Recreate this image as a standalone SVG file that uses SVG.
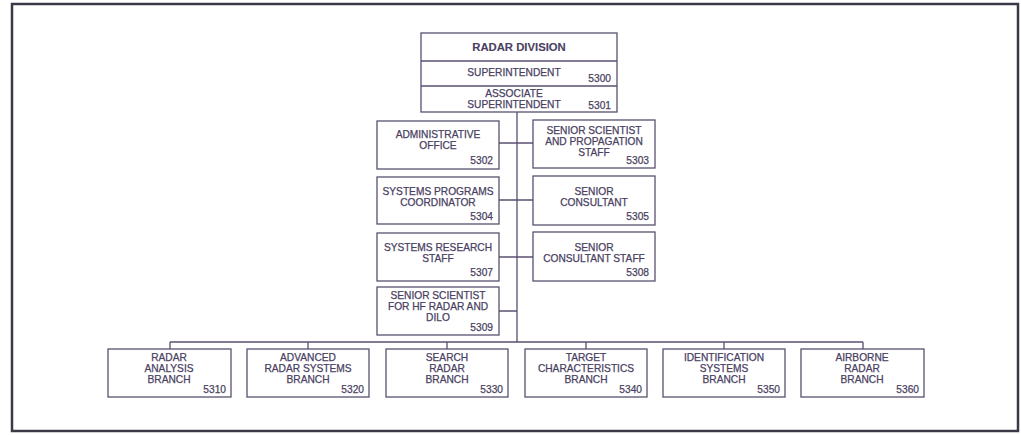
<svg xmlns="http://www.w3.org/2000/svg" width="1021" height="435" viewBox="0 0 1021 435">
<style>
.bx{fill:#fff;stroke:#5a5070;stroke-width:1.3}
.ln{fill:none;stroke:#5a5070;stroke-width:1.3}
text{font-family:"Liberation Sans",Arial,sans-serif;font-size:10.2px;fill:#4a3f62;stroke:#4a3f62;stroke-width:0.25;text-anchor:middle}
.n{text-anchor:end}
.t{font-weight:bold;font-size:11.3px;stroke-width:0.1}
</style>
<rect x="0" y="0" width="1021" height="435" fill="#fff"/>
<rect x="12" y="4" width="1006" height="427" fill="none" stroke="#3d3848" stroke-width="2.5"/>
<g id="connectors">
<path class="ln" d="M517 112V342M170 342H863M170 342V349M308 342V349M447 342V349M586 342V349M724 342V349M863 342V349M499 143H533M499 200H533M499 257H533M499 311H517"/>
</g>
<g id="top">
<rect class="bx" x="421" y="33" width="196" height="79"/>
<path class="ln" d="M421 61H617M421 86H617"/>
<text class="t" x="519" y="51">RADAR DIVISION</text>
<text x="514" y="76">SUPERINTENDENT</text>
<text class="n" x="611" y="82">5300</text>
<text x="514" y="97">ASSOCIATE</text>
<text x="514" y="108">SUPERINTENDENT</text>
<text class="n" x="611" y="109">5301</text>
</g>
<g id="n5302">
<rect class="bx" x="377" y="121" width="122" height="48"/>
<text x="438" y="138">ADMINISTRATIVE</text>
<text x="438" y="149">OFFICE</text>
<text class="n" x="493" y="164">5302</text>
</g>
<g id="n5303">
<rect class="bx" x="533" y="120" width="122" height="48"/>
<text x="594" y="134">SENIOR SCIENTIST</text>
<text x="594" y="145">AND PROPAGATION</text>
<text x="594" y="156">STAFF</text>
<text class="n" x="649" y="164">5303</text>
</g>
<g id="n5304">
<rect class="bx" x="377" y="177" width="122" height="47"/>
<text x="438" y="195">SYSTEMS PROGRAMS</text>
<text x="438" y="206">COORDINATOR</text>
<text class="n" x="493" y="220">5304</text>
</g>
<g id="n5305">
<rect class="bx" x="533" y="176" width="122" height="49"/>
<text x="594" y="195">SENIOR</text>
<text x="594" y="206">CONSULTANT</text>
<text class="n" x="649" y="220">5305</text>
</g>
<g id="n5307">
<rect class="bx" x="377" y="233" width="122" height="48"/>
<text x="438" y="251">SYSTEMS RESEARCH</text>
<text x="438" y="262">STAFF</text>
<text class="n" x="493" y="276">5307</text>
</g>
<g id="n5308">
<rect class="bx" x="533" y="232" width="122" height="49"/>
<text x="594" y="251">SENIOR</text>
<text x="594" y="262">CONSULTANT STAFF</text>
<text class="n" x="649" y="276">5308</text>
</g>
<g id="n5309">
<rect class="bx" x="377" y="287" width="122" height="48"/>
<text x="438" y="299">SENIOR SCIENTIST</text>
<text x="438" y="310">FOR HF RADAR AND</text>
<text x="438" y="321">DILO</text>
<text class="n" x="493" y="331">5309</text>
</g>
<g id="n5310">
<rect class="bx" x="108" y="349" width="123" height="48"/>
<text x="169" y="361">RADAR</text>
<text x="169" y="372">ANALYSIS</text>
<text x="169" y="383">BRANCH</text>
<text class="n" x="226" y="393">5310</text>
</g>
<g id="n5320">
<rect class="bx" x="247" y="349" width="122" height="48"/>
<text x="308" y="361">ADVANCED</text>
<text x="308" y="372">RADAR SYSTEMS</text>
<text x="308" y="383">BRANCH</text>
<text class="n" x="364" y="393">5320</text>
</g>
<g id="n5330">
<rect class="bx" x="386" y="349" width="122" height="48"/>
<text x="447" y="361">SEARCH</text>
<text x="447" y="372">RADAR</text>
<text x="447" y="383">BRANCH</text>
<text class="n" x="503" y="393">5330</text>
</g>
<g id="n5340">
<rect class="bx" x="525" y="349" width="122" height="48"/>
<text x="586" y="361">TARGET</text>
<text x="586" y="372">CHARACTERISTICS</text>
<text x="586" y="383">BRANCH</text>
<text class="n" x="642" y="393">5340</text>
</g>
<g id="n5350">
<rect class="bx" x="663" y="349" width="122" height="48"/>
<text x="724" y="361">IDENTIFICATION</text>
<text x="724" y="372">SYSTEMS</text>
<text x="724" y="383">BRANCH</text>
<text class="n" x="780" y="393">5350</text>
</g>
<g id="n5360">
<rect class="bx" x="801" y="349" width="123" height="48"/>
<text x="862" y="361">AIRBORNE</text>
<text x="862" y="372">RADAR</text>
<text x="862" y="383">BRANCH</text>
<text class="n" x="919" y="393">5360</text>
</g>
</svg>
